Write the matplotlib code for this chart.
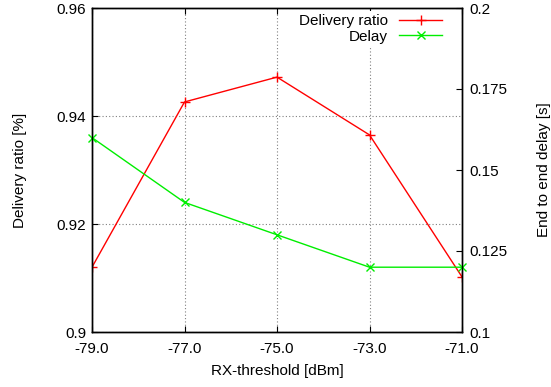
import matplotlib.pyplot as plt

plt.rcParams['font.family'] = ['Liberation Sans', 'DejaVu Sans']
plt.rcParams['font.size'] = 11

rx = [-79.0, -77.0, -75.0, -73.0, -71.0]
delivery = [0.912, 0.9426, 0.9472, 0.9365, 0.9102]
delay = [0.160, 0.140, 0.130, 0.120, 0.120]
xticks = [-79.0, -77.0, -75.0, -73.0, -71.0]
yticks = [0.9, 0.92, 0.94, 0.96]
y2ticks = [0.1, 0.125, 0.15, 0.175, 0.2]

fig = plt.figure(figsize=(5.51, 3.87), dpi=100)
ax = fig.add_axes([92/551, 1-332/387, (462-92)/551, (332-8)/387])
ax2 = ax.twinx()

l1, = ax.plot(rx, delivery, color='red', lw=1, marker='+', ms=7, mew=1, label='Delivery ratio')
l2, = ax2.plot(rx, delay, color='#00ee00', lw=1, marker='x', ms=6, mew=1, label='Delay', clip_on=False)

ax.set_xlim(-79, -71)
ax.set_ylim(0.9, 0.96)
ax2.set_ylim(0.1, 0.2)
ax.set_xticks(xticks)
ax.set_xticklabels(['%.1f' % v for v in xticks])
ax.set_yticks(yticks)
ax.set_yticklabels(['0.9', '0.92', '0.94', '0.96'])
ax2.set_yticks(y2ticks)
ax2.set_yticklabels(['0.1', '0.125', '0.15', '0.175', '0.2'])

ax.grid(True, color='#808080', ls=(0, (1, 2)), lw=0.8)
ax.tick_params(direction='in', length=4, top=True, pad=4)
ax.tick_params(axis='x', pad=7)
ax2.tick_params(direction='in', length=4, pad=5)
for a in (ax, ax2):
    for s in a.spines.values():
        s.set_linewidth(1)

ax.set_xlabel('RX-threshold [dBm]', labelpad=6)
fig.text(20/551, 0.5 + (387/2 - 170)/387, 'Delivery ratio [%]', rotation=90, ha='center', va='center')
fig.text(544/551, 0.5 + (387/2 - 170)/387, 'End to end delay [s]', rotation=90, ha='center', va='center')

leg = ax2.legend([l1, l2], ['Delivery ratio', 'Delay'], loc='upper right', markerfirst=False,
                 bbox_to_anchor=(0.954, 0.99),
                 frameon=True, fancybox=False, edgecolor='none', framealpha=1,
                 handlelength=2.8, borderaxespad=0, borderpad=0.2, labelspacing=0.1,
                 handletextpad=0.72, fontsize=11)
leg.set_zorder(5)
ax2.set_zorder(ax.get_zorder() + 1)

fig.savefig('out.png', dpi=100)
